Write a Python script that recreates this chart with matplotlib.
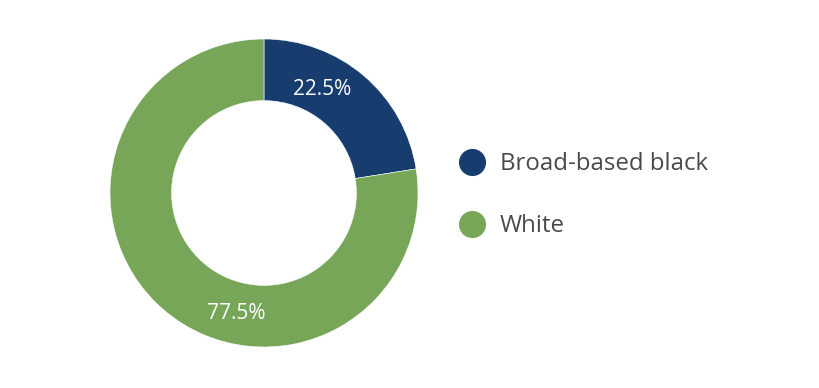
import matplotlib
matplotlib.use("Agg")
import matplotlib.pyplot as plt
from matplotlib.lines import Line2D

# данные
categories = ["Broad-based black", "White"]
shares = [22.5, 77.5]
colors = ["#173c6e", "#77a658"]

plt.rcParams['font.family'] = ['Open Sans', 'DejaVu Sans']

fig = plt.figure(figsize=(8.2, 3.88), dpi=100)
ax = fig.add_axes([110 / 820, 41 / 388, 308 / 820, 308 / 388])

wedges, texts, autotexts = ax.pie(
    shares, colors=colors, startangle=90, counterclock=False,
    radius=1.0, autopct='%.1f%%', pctdistance=0.78,
    wedgeprops=dict(width=0.4, edgecolor='white', linewidth=0.4),
    textprops=dict(color='white', fontsize=15))
ax.set_xlim(-1, 1)
ax.set_ylim(-1, 1)
ax.set_aspect('equal')

# подписи не по центру сектора
autotexts[0].set_position((0.38, 0.67))
autotexts[1].set_position((-0.18, -0.78))
for t in autotexts:
    t.set_ha('center')
    t.set_va('center')

handles = [Line2D([], [], marker='o', linestyle='none', markersize=18.5,
                  markerfacecolor=c, markeredgecolor=c) for c in colors]
fig.legend(handles, categories, loc='center left',
           bbox_to_anchor=(457.5 / 820, 1 - 195 / 388), frameon=False,
           fontsize=17.3, labelcolor='#4a4a4a', handletextpad=0.56,
           labelspacing=1.58, handlelength=1.2, borderpad=0,
           borderaxespad=0)

fig.savefig("out.png", dpi=100)
